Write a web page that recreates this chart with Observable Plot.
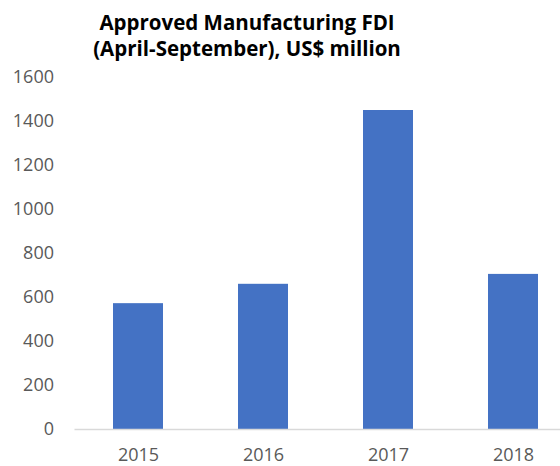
<!DOCTYPE html>
<html>
<head>
<meta charset="utf-8">
<script src="https://cdn.jsdelivr.net/npm/d3@7"></script>
<script src="https://cdn.jsdelivr.net/npm/@observablehq/plot@0.6"></script>
<style>
  html, body { margin: 0; padding: 0; background: #fff; overflow: hidden; }
  #wrap { position: relative; width: 560px; height: 466px; overflow: hidden; }
  #title {
    position: absolute; left: 0; top: 8.5px; width: 494px;
    text-align: center; font-family: "Open Sans", sans-serif; font-weight: 700;
    font-size: 20.5px; line-height: 26px; color: #000; white-space: nowrap;
  }
  #chart { position: absolute; left: 0; top: 62px; width: 576px; }
  #chart svg { max-width: none !important; }
</style>
</head>
<body>
<div id="wrap">
  <div id="title">Approved Manufacturing FDI<br>(April-September), US$ million</div>
  <div id="chart"></div>
</div>
<script>
const years = ["2015", "2016", "2017", "2018"];
const values = [572, 660, 1450, 705];
const yTicks = [0, 200, 400, 600, 800, 1000, 1200, 1400, 1600];

const data = years.map((y, i) => ({year: y, value: values[i]}));

const chart = Plot.plot({
  width: 576,
  height: 404,
  marginLeft: 74.5,
  marginRight: 0,
  marginTop: 15,
  marginBottom: 37,
  style: {fontFamily: "Open Sans, sans-serif", fontSize: "18px", color: "#595959", background: "transparent", maxWidth: "none"},
  x: {domain: years, paddingInner: 0.6, paddingOuter: 0.3, label: null, tickSize: 0, tickPadding: 19},
  y: {domain: [0, 1600], ticks: yTicks, tickFormat: d => String(d), label: null, tickSize: 0, tickPadding: 21},
  marks: [
    Plot.barY(data, {x: "year", y: "value", fill: "#4472C4"}),
    Plot.ruleY([0], {stroke: "#d9d9d9", strokeWidth: 1.5})
  ]
});
document.getElementById("chart").appendChild(chart);
</script>
</body>
</html>
